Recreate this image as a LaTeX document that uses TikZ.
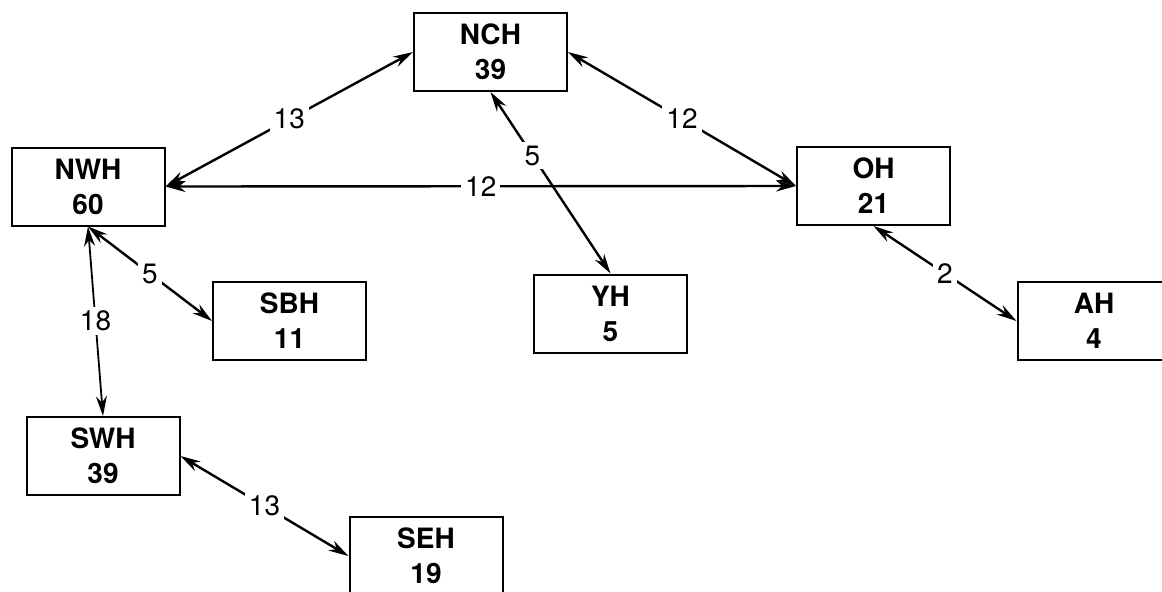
\documentclass[tikz,border=0pt]{standalone}
\usepackage{fontspec}
\setmainfont{TeX Gyre Heros}
\usetikzlibrary{arrows.meta,positioning}
\tikzstyle{hub} = [rectangle, minimum width=76.5pt, minimum height=39pt, align=center, draw=black, fill=white, line width=1pt, font=\fontsize{14}{17.5}\selectfont\bfseries]
\tikzstyle{link} = [line width=1.2pt, {Stealth[length=10pt,width=5.5pt]}-{Stealth[length=10pt,width=5.5pt]}]
\tikzstyle{flow} = [fill=white, inner sep=2pt, font=\fontsize{14}{17.5}\selectfont]
\begin{document}
\begin{tikzpicture}[x=0.5pt, y=-0.5pt]
\useasboundingbox (0,0) rectangle (1162,591);
\clip (0,0) rectangle (1162,591);
\fill[white] (0,0) rectangle (1162,591);

% Hubs
\node (nch) [hub] at (490.5,52) {NCH\\39};
\node (nwh) [hub] at (88,186.5) {NWH\\60};
\node (oh) [hub] at (873.5,186) {OH\\21};
\node (yh) [hub] at (610.5,313.5) {YH\\5};
\node (sbh) [hub] at (289.5,321) {SBH\\11};
\node (ah) [hub] at (1094,321) {AH\\4};
\node (swh) [hub] at (103,456) {SWH\\39};
\node (seh) [hub] at (426,556) {SEH\\19};

% Links
\draw[link] (nwh.east) -- node[flow] {13} (nch.west);
\draw[link] (nch.east) -- node[flow] {12} (oh.west);
\draw[link] (nwh.east) -- node[flow] {12} (oh.west);
\draw[link] (nch.south) -- node[flow, pos=0.35] {5} (yh.north);
\draw[link] (nwh.south) -- node[flow] {5} (sbh.west);
\draw[link, line width=0.9pt] (nwh.south) -- node[flow] {18} (swh.north);
\draw[link] (swh.east) -- node[flow] {13} (seh.west);
\draw[link] (oh.south) -- node[flow] {2} (ah.west);
\end{tikzpicture}
\end{document}
